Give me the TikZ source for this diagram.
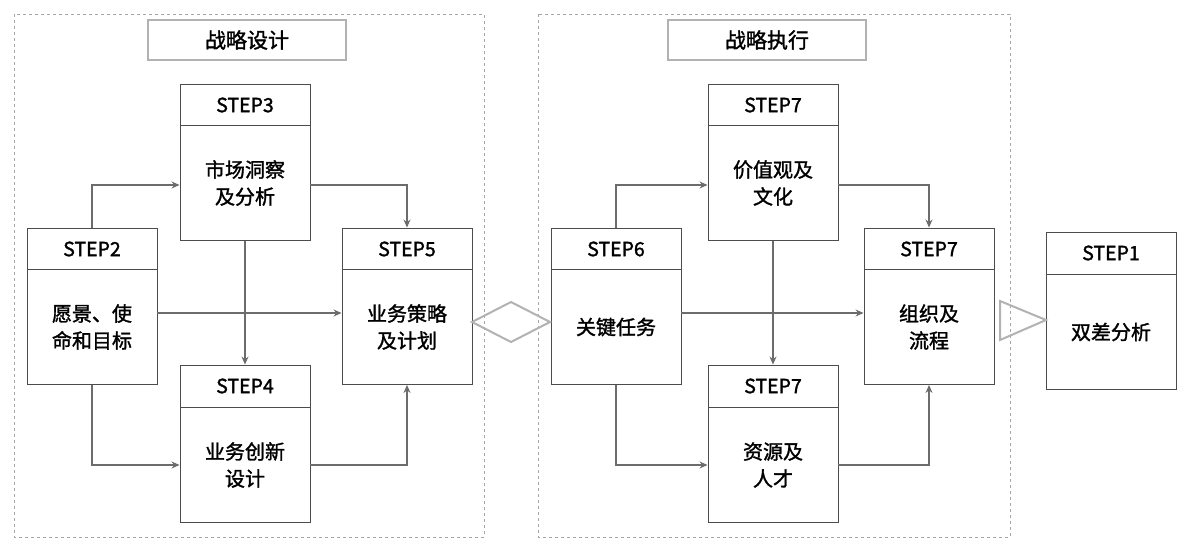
\documentclass[tikz,border=0pt]{standalone}
\usepackage{fontspec}
\setmainfont{Noto Sans CJK SC}[FakeBold=1.5]
\usetikzlibrary{arrows.meta,shapes.geometric}
\begin{document}
\begin{tikzpicture}[x=1pt,y=-1pt,
  frame/.style={draw=gray!70,dashed,line width=0.9pt},
  title/.style={draw=gray!60,line width=1.6pt,minimum width=198pt,minimum height=40pt,font=\fontsize{21}{24}\selectfont,inner sep=0pt},
  hd/.style={draw=black!70,line width=0.9pt,minimum width=130pt,minimum height=42pt,font=\fontsize{19.5}{22}\selectfont,inner sep=0pt,fill=white},
  bd/.style={draw=black!70,line width=0.9pt,minimum width=130pt,minimum height=115pt,font=\fontsize{20}{27}\selectfont,align=center,inner sep=0pt,fill=white},
  ln/.style={draw=gray!85!black,line width=1.3pt},
  ar/.style={ln,-{Stealth[length=8pt,width=7pt]}}]
\useasboundingbox (0,0) rectangle (1198,557);
\draw[frame] (14,14) rectangle (484,537);
\draw[frame] (538,14) rectangle (1010,537);
\node[title] (t1) at (247,40) {战略设计};
\node[title] (t2) at (767,40) {战略执行};
% left
\node[hd] (s3h) at (245,105) {STEP3};
\node[bd] (s3b) at (245,183) {市场洞察\\及分析};
\node[hd] (s2h) at (92,249) {STEP2};
\node[bd] (s2b) at (92,327) {愿景、使\\命和目标};
\node[hd] (s5h) at (407,249) {STEP5};
\node[bd] (s5b) at (407,327) {业务策略\\及计划};
\node[hd] (s4h) at (245,386) {STEP4};
\node[bd] (s4b) at (245,465) {业务创新\\设计};
% right
\node[hd] (s7ah) at (773,105) {STEP7};
\node[bd] (s7ab) at (773,183) {价值观及\\文化};
\node[hd] (s6h) at (616,249) {STEP6};
\node[bd] (s6b) at (616,327) {关键任务};
\node[hd] (s7bh) at (929,249) {STEP7};
\node[bd] (s7bb) at (929,327) {组织及\\流程};
\node[hd] (s7ch) at (773,386) {STEP7};
\node[bd] (s7cb) at (773,465) {资源及\\人才};
\node[hd] (s1h) at (1111,253) {STEP1};
\node[bd] (s1b) at (1111,332) {双差分析};
% connectors left
\draw[ar] (s2h.north) |- (s3b.west |- 0,185);
\draw[ar] (s3b.east |- 0,185) -| (s5h.north);
\draw[ar] (s3b.south) -- (s4h.north);
\draw[ar] (s2b.east |- 0,313) -- (s5b.west |- 0,313);
\draw[ar] (s2b.south) |- (s4b.west |- 0,465);
\draw[ar] (s4b.east |- 0,465) -| (s5b.south);
% connectors right
\draw[ar] (s6h.north) |- (s7ab.west |- 0,185);
\draw[ar] (s7ab.east |- 0,185) -| (s7bh.north);
\draw[ar] (s7ab.south) -- (s7ch.north);
\draw[ar] (s6b.east |- 0,313) -- (s7bb.west |- 0,313);
\draw[ar] (s6b.south) |- (s7cb.west |- 0,465);
\draw[ar] (s7cb.east |- 0,465) -| (s7bb.south);
% links
\coordinate (dl) at (472,322);
\coordinate (dr) at (550,322);
\draw[draw=gray!60,line width=2pt] (dl) -- (511,302) -- (dr) -- (511,342) -- cycle;
\draw[draw=gray!60,line width=2pt,line join=miter] (1000,301) -- (1046,320) -- (1000,340) -- cycle;
\end{tikzpicture}
\end{document}
